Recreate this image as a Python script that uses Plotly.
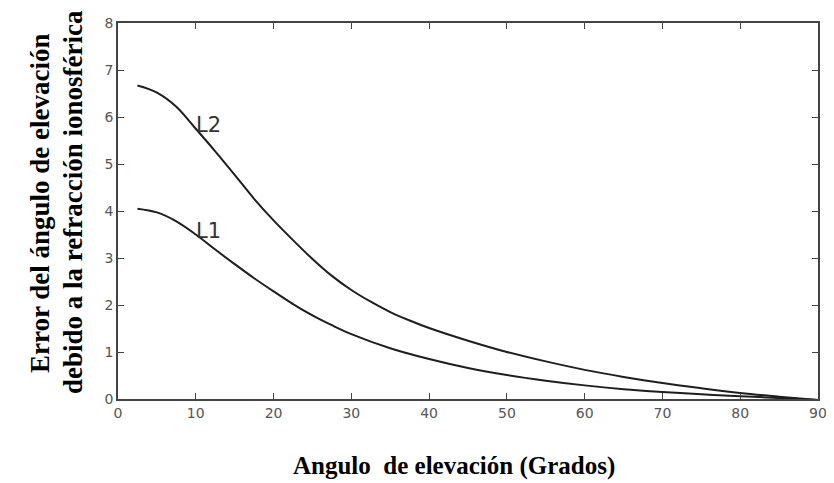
import plotly.graph_objects as go

# Elevation angle (degrees) vs elevation-angle error
x_l2 = [2.5, 5, 7.5, 10, 12.5, 15, 17.5, 20, 22.5, 25, 27.5, 30, 32.5, 35, 37.5, 40, 45, 50, 55, 60, 65, 70, 75, 80, 85, 90]
y_l2 = [6.67, 6.52, 6.22, 5.75, 5.27, 4.77, 4.26, 3.8, 3.38, 2.98, 2.62, 2.32, 2.07, 1.85, 1.67, 1.51, 1.24, 1.0, 0.8, 0.62, 0.47, 0.34, 0.23, 0.13, 0.05, -0.02]

x_l1 = [2.5, 5, 7.5, 10, 12.5, 15, 17.5, 20, 22.5, 25, 27.5, 30, 35, 40, 45, 50, 55, 60, 65, 70, 75, 80, 85, 90]
y_l1 = [4.05, 3.97, 3.78, 3.5, 3.18, 2.87, 2.57, 2.29, 2.02, 1.78, 1.57, 1.38, 1.08, 0.85, 0.66, 0.51, 0.39, 0.29, 0.21, 0.15, 0.1, 0.06, 0.02, -0.02]

x_ticks = [0, 10, 20, 30, 40, 50, 60, 70, 80, 90]
y_ticks = [0, 1, 2, 3, 4, 5, 6, 7, 8]

curve_labels = ["L2", "L1"]
label_x = [10, 10]
label_y = [5.72, 3.47]

x_title = "Angulo  de elevación (Grados)"
y_title_1 = "Error del ángulo de elevación"
y_title_2 = "debido a la refracción ionosférica"

fig = go.Figure()
line_style = dict(color="#1e1e1e", width=2, shape="spline", smoothing=1.0)
fig.add_trace(go.Scatter(x=x_l2, y=y_l2, mode="lines", line=line_style, name="L2"))
fig.add_trace(go.Scatter(x=x_l1, y=y_l1, mode="lines", line=line_style, name="L1"))

for t, lx, ly in zip(curve_labels, label_x, label_y):
    fig.add_annotation(x=lx, y=ly, text=t, showarrow=False, xanchor="left", yanchor="middle",
                       xshift=-2, yshift=5, font=dict(family="DejaVu Sans", size=21, color="#333"))

axis_common = dict(
    showgrid=False, zeroline=False, showline=True, linecolor="#444", linewidth=1.5,
    mirror="ticks", ticks="inside", ticklen=6, tickwidth=1.2, tickcolor="#444",
    tickfont=dict(family="DejaVu Sans", size=14, color="#555"),
)
fig.update_xaxes(range=[0, 90], tickvals=x_ticks, **axis_common)
fig.update_yaxes(range=[0, 8], tickvals=y_ticks, **axis_common)

fig.add_annotation(xref="paper", yref="paper", x=0.5, y=-0.178, yanchor="middle",
                   text="<b>" + x_title + "</b>", showarrow=False, xshift=-14,
                   font=dict(family="Liberation Serif", size=25, color="#000"))
fig.add_annotation(xref="paper", yref="paper", x=0, y=0.5, text="<b>" + y_title_1 + "</b>", textangle=-90,
                   showarrow=False, xanchor="center", yanchor="middle", xshift=-78, yshift=8,
                   font=dict(family="Liberation Serif", size=27, color="#000"))
fig.add_annotation(xref="paper", yref="paper", x=0, y=0.5, text="<b>" + y_title_2 + "</b>", textangle=-90,
                   showarrow=False, xanchor="center", yanchor="middle", xshift=-45, yshift=9,
                   font=dict(family="Liberation Serif", size=27, color="#000"))

# the page adds an 8px body margin, so the figure is sized to fit the 834x483 window
fig.update_layout(
    width=826, height=475,
    margin=dict(l=110, r=12, t=7, b=84),
    paper_bgcolor="white", plot_bgcolor="white",
    showlegend=False,
)
fig.write_html("out.html")
